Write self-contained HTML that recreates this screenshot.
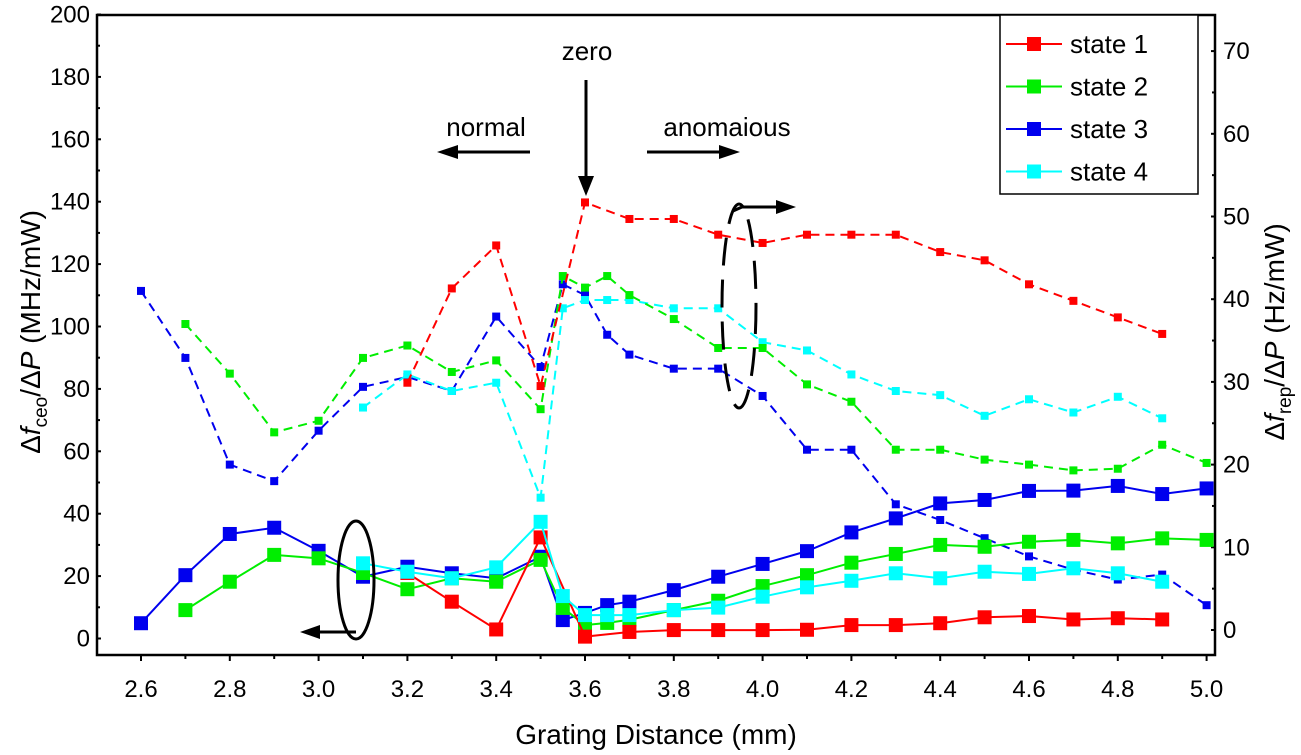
<!DOCTYPE html>
<html><head><meta charset="utf-8"><style>
body{margin:0;background:#fff;}
svg{display:block;font-family:"Liberation Sans",Arial,sans-serif;}
</style></head><body>
<svg id="chart" width="1301" height="755" viewBox="0 0 1301 755">
<g id="axes"></g>
<g id="series"></g>
<g id="annot">
 <text x="587" y="60" font-size="26" text-anchor="middle">zero</text>
 <line x1="586" y1="80" x2="586" y2="180" stroke="#000" stroke-width="3"/>
 <polygon points="578,176 594,176 586,196" fill="#000"/>
 <text x="486" y="136" font-size="26" text-anchor="middle">normal</text>
 <line x1="530" y1="152" x2="455" y2="152" stroke="#000" stroke-width="3"/>
 <polygon points="458,145 458,159 437,152" fill="#000"/>
 <text x="727" y="136" font-size="26" text-anchor="middle">anomaious</text>
 <line x1="647" y1="152" x2="722" y2="152" stroke="#000" stroke-width="3"/>
 <polygon points="719,145 719,159 740,152" fill="#000"/>
 <ellipse cx="356" cy="580" rx="18" ry="59" fill="none" stroke="#000" stroke-width="3"/>
 <line x1="356" y1="632" x2="318" y2="632" stroke="#000" stroke-width="3"/>
 <polygon points="320,625 320,639 300,632" fill="#000"/>
 <ellipse cx="739" cy="306" rx="17" ry="102" fill="none" stroke="#000" stroke-width="3" stroke-dasharray="28,14"/>
 <path d="M733,211 L742,207 L778,207" fill="none" stroke="#000" stroke-width="3"/>
 <polygon points="776,200 776,214 796,207" fill="#000"/>
</g>
<g id="legend"></g>
</svg>
<script>
const xTicks=[2.6,2.8,3.0,3.2,3.4,3.6,3.8,4.0,4.2,4.4,4.6,4.8,5.0];
const yLeftTicks=[0,20,40,60,80,100,120,140,160,180,200];
const yRightTicks=[0,10,20,30,40,50,60,70];
const seriesNames=["state 1","state 2","state 3","state 4"];
const seriesColors=["#ff0000","#00ee00","#0000ee","#00ffff"];
const solid1X=[3.2,3.3,3.4,3.5,3.6,3.7,3.8,3.9,4.0,4.1,4.2,4.3,4.4,4.5,4.6,4.7,4.8,4.9];
const solid1Y=[21,11.8,2.9,32.4,0.6,2.1,2.7,2.7,2.7,2.8,4.3,4.3,4.9,6.8,7.2,6.1,6.5,6.1];
const solid2X=[2.7,2.8,2.9,3.0,3.1,3.2,3.3,3.4,3.5,3.55,3.6,3.65,3.7,3.8,3.9,4.0,4.1,4.2,4.3,4.4,4.5,4.6,4.7,4.8,4.9,5.0];
const solid2Y=[9.1,18.2,26.8,25.7,21,15.8,19.3,18.2,25.2,9.8,4.3,5,6,9.1,12.1,16.8,20.3,24.3,27.1,30,29.4,31,31.6,30.5,32.1,31.6];
const solid3X=[2.6,2.7,2.8,2.9,3.0,3.1,3.2,3.3,3.4,3.5,3.55,3.6,3.65,3.7,3.8,3.9,4.0,4.1,4.2,4.3,4.4,4.5,4.6,4.7,4.8,4.9,5.0];
const solid3Y=[4.9,20.3,33.5,35.5,28.1,19.8,23,20.9,19.3,26.2,5.9,8.2,10.7,11.8,15.5,19.8,23.9,28,34,38.5,43.3,44.4,47.3,47.4,48.9,46.3,48.1];
const solid4X=[3.1,3.2,3.3,3.4,3.5,3.55,3.6,3.65,3.7,3.8,3.9,4.0,4.1,4.2,4.3,4.4,4.5,4.6,4.7,4.8,4.9];
const solid4Y=[24.1,21.4,19.3,22.8,37.4,13.6,7.5,7.5,7.5,9.1,9.9,13.4,16.4,18.5,20.9,19.3,21.4,20.7,22.5,20.9,18.2];
const dash1X=[3.2,3.3,3.4,3.5,3.6,3.7,3.8,3.9,4.0,4.1,4.2,4.3,4.4,4.5,4.6,4.7,4.8,4.9];
const dash1Y=[29.9,41.3,46.5,29.5,51.7,49.7,49.7,47.8,46.8,47.8,47.8,47.8,45.7,44.7,41.8,39.8,37.8,35.8];
const dash2X=[2.7,2.8,2.9,3.0,3.1,3.2,3.3,3.4,3.5,3.55,3.6,3.65,3.7,3.8,3.9,4.0,4.1,4.2,4.3,4.4,4.5,4.6,4.7,4.8,4.9,5.0];
const dash2Y=[37,31,23.9,25.3,32.9,34.4,31.2,32.6,26.7,42.8,41.4,42.8,40.5,37.6,34.1,34.1,29.7,27.6,21.8,21.8,20.6,20,19.3,19.5,22.4,20.2];
const dash3X=[2.6,2.7,2.8,2.9,3.0,3.1,3.2,3.3,3.4,3.5,3.55,3.6,3.65,3.7,3.8,3.9,4.0,4.1,4.2,4.3,4.4,4.5,4.6,4.7,4.8,4.9,5.0];
const dash3Y=[41,32.9,20,18,24.1,29.4,30.6,28.9,37.9,31.8,41.8,40.5,35.7,33.3,31.6,31.6,28.3,21.8,21.8,15.2,13.3,11.1,8.9,7.3,6.1,6.7,3];
const dash4X=[3.1,3.2,3.3,3.4,3.5,3.55,3.6,3.65,3.7,3.8,3.9,4.0,4.1,4.2,4.3,4.4,4.5,4.6,4.7,4.8,4.9];
const dash4Y=[26.9,30.9,28.9,29.9,16,38.9,39.9,39.9,39.9,38.9,38.9,34.8,33.8,30.9,28.9,28.4,25.9,27.9,26.3,28.2,25.6];

const NS="http://www.w3.org/2000/svg";
const L=97,R=1215,T=15,B=655;
function xs(v){return 141+(v-2.6)*444;}
function yl(v){return 638.5-v*3.12;}
function yr(v){return 630-v*8.27;}
function mk(tag,attrs,parent){const e=document.createElementNS(NS,tag);for(const k in attrs)e.setAttribute(k,attrs[k]);parent.appendChild(e);return e;}
const axes=document.getElementById('axes');
let frame=mk('rect',{x:L,y:T,width:R-L,height:B-T,fill:'none',stroke:'#000','stroke-width':2.5},axes);


for(let i=0;i<=24;i++){const v=2.6+i*0.1;const x=xs(v);const major=i%2==0;
 let t=mk('line',{x1:x,y1:B,x2:x,y2:B+(major?6:4),stroke:'#000','stroke-width':2},axes);
 
 }
xTicks.forEach(v=>{let t=mk('text',{x:xs(v),y:697,'font-size':24,'text-anchor':'middle'},axes);t.textContent=v.toFixed(1);
 
 });
for(let v=0;v<=200;v+=10){const y=yl(v);let t=mk('line',{x1:L,y1:y,x2:L+(v%20==0?4:3),y2:y,stroke:'#000','stroke-width':2},axes);
 
 }
yLeftTicks.forEach(v=>{let t=mk('text',{x:L-7,y:yl(v)+8,'font-size':24,'text-anchor':'end'},axes);t.textContent=v;
 
 });
for(let v=0;v<=75;v+=5){const y=yr(v);if(y<T)continue;let t=mk('line',{x1:R,y1:y,x2:R-(v%10==0?4:3),y2:y,stroke:'#000','stroke-width':2},axes);
 
 }
yRightTicks.forEach(v=>{let t=mk('text',{x:R+8,y:yr(v)+8,'font-size':24},axes);t.textContent=v;
 
 });
let xt=mk('text',{x:656,y:744,'font-size':28,'text-anchor':'middle'},axes);xt.textContent='Grating Distance (mm)';


let ylt=mk('text',{x:0,y:0,'font-size':28,'text-anchor':'middle',transform:'translate(40,332) rotate(-90)'},axes);
ylt.innerHTML='Δ<tspan font-style="italic">f</tspan><tspan font-size="19" dy="7">ceo</tspan><tspan dy="-7">/Δ</tspan><tspan font-style="italic">P</tspan> (MHz/mW)';


let yrt=mk('text',{x:0,y:0,'font-size':28,'text-anchor':'middle',transform:'translate(1284,332) rotate(-90)'},axes);
yrt.innerHTML='Δ<tspan font-style="italic">f</tspan><tspan font-size="19" dy="7">rep</tspan><tspan dy="-7">/Δ</tspan><tspan font-style="italic">P</tspan> (Hz/mW)';



const sg=document.getElementById('series');
function draw(X,Y,yf,color,dashed,size,name){
 const g=mk('g',{},sg);
 
 
 const pts=X.map((x,i)=>xs(x)+','+yf(Y[i])).join(' ');
 const pl=mk('polyline',{points:pts,fill:'none',stroke:color,'stroke-width':2,'stroke-dasharray':dashed?'9,6':'none'},g);
 
 
 X.forEach((x,i)=>{const r=mk('rect',{x:xs(x)-size/2,y:yf(Y[i])-size/2,width:size,height:size,fill:color},g);
  
  });
}
draw(dash3X,dash3Y,yr,seriesColors[2],true,8,'state3-frep');
draw(dash4X,dash4Y,yr,seriesColors[3],true,8,'state4-frep');
draw(dash2X,dash2Y,yr,seriesColors[1],true,8,'state2-frep');
draw(dash1X,dash1Y,yr,seriesColors[0],true,8,'state1-frep');
draw(solid3X,solid3Y,yl,seriesColors[2],false,14,'state3-fceo');
draw(solid2X,solid2Y,yl,seriesColors[1],false,14,'state2-fceo');
draw(solid1X,solid1Y,yl,seriesColors[0],false,14,'state1-fceo');
draw(solid4X,solid4Y,yl,seriesColors[3],false,14,'state4-fceo');

const lg=document.getElementById('legend');
let box=mk('rect',{x:1000,y:15,width:198,height:179,fill:'#fff',stroke:'#000','stroke-width':1.5},lg);


seriesNames.forEach((n,i)=>{const y=44+i*42.5;
 const e=mk('g',{},lg);
 
 
 mk('line',{x1:1006,y1:y,x2:1062,y2:y,stroke:seriesColors[i],'stroke-width':2},e);
 mk('rect',{x:1027,y:y-7,width:14,height:14,fill:seriesColors[i]},e);
 const t=mk('text',{x:1070,y:y+9,'font-size':26},e);t.textContent=n;});
</script>
</body></html>
